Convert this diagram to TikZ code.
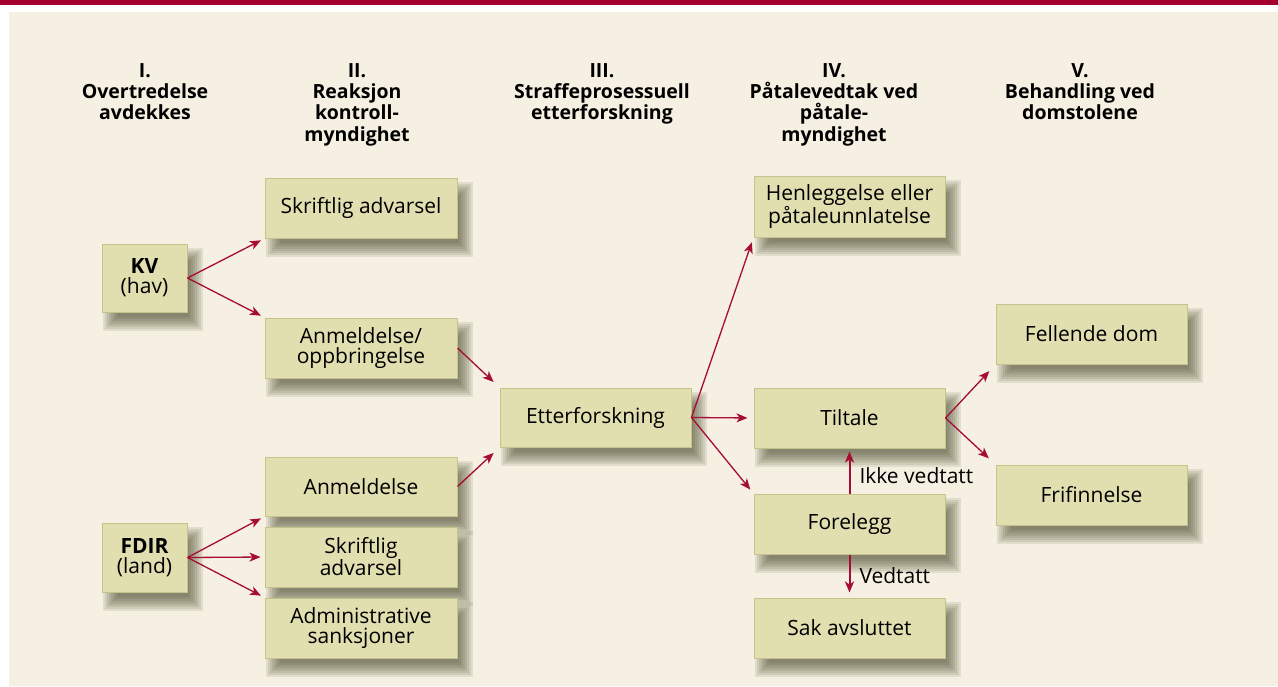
\documentclass[tikz,border=0pt]{standalone}
\usepackage{fontspec}
\setmainfont{Open Sans}
\usetikzlibrary{arrows.meta,backgrounds}
\definecolor{bgc}{RGB}{245,240,225}
\definecolor{redbar}{RGB}{166,0,48}
\definecolor{boxfill}{RGB}{225,222,176}
\definecolor{boxline}{RGB}{198,194,140}
\definecolor{arr}{RGB}{166,12,52}
\definecolor{shc}{RGB}{70,68,38}
\newcommand\softshadow[1]{%
  \foreach \r in {-7,-5,...,7}{%
    \fill[shc, opacity=0.11]
      ([xshift=8pt+\r pt, yshift=-11pt+\r pt]#1.south west) rectangle
      ([xshift=8pt-\r pt, yshift=-11pt-\r pt]#1.north east);
  }}
\begin{document}
\begin{tikzpicture}[x=1pt,y=-1pt,
  box/.style={draw=boxline, line width=1pt, fill=boxfill, minimum width=192pt, minimum height=60pt, inner sep=0pt, align=center, font=\fontsize{21}{20}\selectfont},
  smallbox/.style={box, minimum width=85pt, minimum height=68pt},
  hdr/.style={anchor=north, align=center, inner sep=0pt, font=\fontsize{19.5}{21.3}\selectfont\bfseries},
  arrow/.style={draw=arr, line width=1.3pt, -{Stealth[length=11pt,width=9pt,inset=3pt]}, shorten >=4pt},
  varrow/.style={arrow, line width=2pt},
  lbl/.style={font=\fontsize{21}{20}\selectfont, inner sep=0pt, anchor=west, xshift=9pt}
]
\useasboundingbox (0,0) rectangle (1278,686);

% headers
\node[hdr] (h1) at (145,63) {I.\\Overtredelse\\avdekkes};
\node[hdr] (h2) at (357,63) {II.\\Reaksjon\\kontroll-\\myndighet};
\node[hdr] (h3) at (602,63) {III.\\Straffeprosessuell\\etterforskning};
\node[hdr] (h4) at (834,63) {IV.\\Påtalevedtak ved\\påtale-\\myndighet};
\node[hdr] (h5) at (1080,63) {V.\\Behandling ved\\domstolene};

% boxes
\node[smallbox] (kv) at (144.5,278) {\textbf{KV}\\(hav)};
\node[smallbox, minimum height=69pt] (fdir) at (144.5,557.5) {\textbf{FDIR}\\(land)};
\node[box] (sa1) at (361,208) {Skriftlig advarsel};
\node[box] (ao) at (361,348) {Anmeldelse/\\oppbringelse};
\node[box, minimum height=59pt] (an) at (361,486.5) {Anmeldelse};
\node[box] (sa2) at (361,557) {Skriftlig\\advarsel};
\node[box] (adm) at (361,628) {Administrative\\sanksjoner};
\node[box, minimum width=191pt, minimum height=59pt] (etf) at (595.5,417.5) {Etterforskning};
\node[box, minimum width=191pt, minimum height=61pt] (hen) at (849.5,206.5) {Henleggelse eller\\påtaleunnlatelse};
\node[box, minimum width=191pt] (til) at (849.5,418) {Tiltale};
\node[box, minimum width=191pt] (for) at (849.5,524) {Forelegg};
\node[box, minimum width=191pt] (sak) at (849.5,628) {Sak avsluttet};
\node[box, minimum width=191pt] (fel) at (1091.5,334) {Fellende dom};
\node[box, minimum width=191pt] (fri) at (1091.5,495) {Frifinnelse};

\begin{scope}[on background layer]
  \fill[white] (0,0) rectangle (1278,686);
  \fill[redbar] (0,0) rectangle (1278,5);
  \fill[bgc] (9,12) rectangle (1278,686);
  \foreach \n in {kv,fdir,sa1,ao,an,sa2,adm,etf,hen,til,for,sak,fel,fri}{\softshadow{\n}}
\end{scope}

% connectors
\draw[arrow] (kv.east) -- (sa1.south west);
\draw[arrow] (kv.east) -- (ao.north west);
\draw[arrow] (fdir.east) -- (an.south west);
\draw[arrow] (fdir.east) -- (sa2.west);
\draw[arrow] (fdir.east) -- (adm.north west);
\draw[arrow, shorten >=8pt] (ao.east) -- (etf.north west);
\draw[arrow, shorten >=8pt] (an.east) -- (etf.south west);
\draw[arrow, shorten >=5pt] (etf.east) -- (hen.south west);
\draw[arrow, shorten >=6pt] (etf.east) -- (til.west);
\draw[arrow, shorten >=5pt] (etf.east) -- (for.north west);
\draw[arrow, shorten >=9pt] (til.east) -- (fel.south west);
\draw[arrow, shorten >=9pt] (til.east) -- (fri.north west);
\draw[varrow, shorten >=3pt] (for.north) -- node[lbl, pos=0.4] {Ikke vedtatt} (til.south);
\draw[varrow, shorten >=5pt] (for.south) -- node[lbl, pos=0.5] {Vedtatt} (sak.north);
\end{tikzpicture}
\end{document}
